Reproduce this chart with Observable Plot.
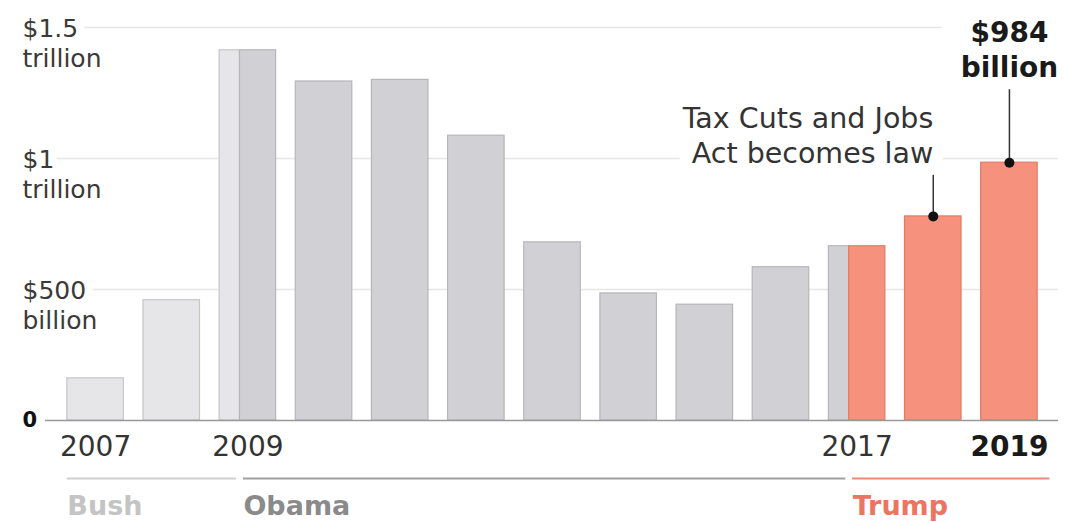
<!DOCTYPE html>
<html>
<head>
<meta charset="utf-8">
<script src="https://cdn.jsdelivr.net/npm/d3@7"></script>
<script src="https://cdn.jsdelivr.net/npm/@observablehq/plot@0.6"></script>
<style>
  html, body { margin: 0; padding: 0; background: white; }
  #chart svg { display: block; }
</style>
</head>
<body>
<div id="chart"></div>
<script>
// ---- Data (US federal deficit, billions of dollars) ----
const years = [2007, 2008, 2009, 2010, 2011, 2012, 2013, 2014, 2015, 2016, 2017, 2018, 2019];
const deficits = [161, 459, 1413, 1294, 1300, 1087, 680, 485, 442, 585, 665, 779, 984];
const presidents = ["Bush", "Bush", "Obama", "Obama", "Obama", "Obama", "Obama", "Obama", "Obama", "Obama", "Trump", "Trump", "Trump"];
const handoffs = [
  {year: 2009, from: "Bush", to: "Obama"},
  {year: 2017, from: "Obama", to: "Trump"}
];
const handoffShare = 0.36; // part of the handoff year drawn for the outgoing president
const periodNames = ["Bush", "Obama", "Trump"];
const yTicks = [500, 1000, 1500];
const yTickLabels = ["$500\nbillion", "$1\ntrillion", "$1.5\ntrillion"];
const labeledYears = [2007, 2009, 2017];
const boldYear = 2019;
const annotations = [
  {year: 2018, text: "Tax Cuts and Jobs\nAct becomes law", leaderPx: 41},
  {year: 2019, text: "$984\nbillion", leaderPx: 73}
];

// ---- Styles ----
const fills = {Bush: "#e6e6e9", Obama: "#d1d1d5", Trump: "#f5917d"};
const strokes = {Bush: "#c6c6ca", Obama: "#b6b6ba", Trump: "#e37a68"};
const periodLine = {Bush: "#d0d0d0", Obama: "#a0a0a0", Trump: "#ef8a77"};
const periodText = {Bush: "#c4c4c4", Obama: "#8a8a8a", Trump: "#ec7561"};
const barHalf = 0.371;
const W = 1066, H = 522, mT = 27, mB = 102, mL = 57, mR = 19;
const yMax = 1500;
const perPx = yMax / (H - mT - mB);

// ---- Derived tables ----
const value = Object.fromEntries(years.map((y, i) => [y, deficits[i]]));
const splitOf = {};
const segments = years.flatMap((yr, i) => {
  const left = yr - barHalf, right = yr + barHalf, v = deficits[i];
  const h = handoffs.find(d => d.year === yr);
  if (!h) return [{x1: left, x2: right, value: v, president: presidents[i]}];
  const split = left + handoffShare * (right - left);
  splitOf[yr] = split;
  return [
    {x1: left, x2: split, value: v, president: h.from},
    {x1: split, x2: right, value: v, president: h.to}
  ];
});
const gap = 0.045;
const periods = [
  {name: "Bush", x1: years[0] - barHalf, x2: splitOf[2009] - gap},
  {name: "Obama", x1: splitOf[2009] + gap, x2: splitOf[2017] - gap},
  {name: "Trump", x1: splitOf[2017] + gap, x2: years[years.length - 1] + barHalf + 0.16}
].filter(d => periodNames.includes(d.name));
const ann = annotations.map(d => ({...d, value: value[d.year]}));
const yLabelRows = yTicks.map((t, i) => ({y: t, label: yTickLabels[i]}));

// shared text options
const yLabelOpts = {
  y: "y", text: "label", frameAnchor: "left", dx: -35, textAnchor: "start",
  lineAnchor: "top", dy: -11, lineHeight: 1.17, fontSize: 25
};
const ann18 = ann.filter(d => d.year === 2018);
const ann19 = ann.filter(d => d.year === 2019);
const ann18Opts = {
  x: "year", y: "value", text: "text", textAnchor: "end", lineAnchor: "bottom",
  dy: -(annotations[0].leaderPx + 12), lineHeight: 1.25, fontSize: 28.5
};
const ann19Opts = {
  x: "year", y: "value", text: "text", textAnchor: "middle", lineAnchor: "bottom",
  dy: -(annotations[1].leaderPx + 13), lineHeight: 1.25, fontSize: 28, fontWeight: "bold"
};
const halo = (w) => ({fill: "none", stroke: "white", strokeWidth: w, strokeLinejoin: "round"});

const chart = Plot.plot({
  width: W, height: H,
  marginTop: mT, marginBottom: mB, marginLeft: mL, marginRight: mR,
  x: {domain: [2006.5, 2019.5], axis: null},
  y: {domain: [0, yMax], axis: null},
  color: {type: "identity"},
  style: {fontFamily: "'DejaVu Sans', sans-serif", background: "white", overflow: "visible", color: "#333"},
  marks: [
    Plot.ruleY(yTicks, {stroke: "#e6e6e6", strokeWidth: 1.5, insetLeft: -37, insetRight: -11}),
    Plot.rect(segments, {
      x1: "x1", x2: "x2", y1: 0, y2: "value",
      fill: d => fills[d.president], stroke: d => strokes[d.president], strokeWidth: 1.2
    }),
    Plot.ruleY([0], {stroke: "#999", strokeWidth: 1.5, insetLeft: -12, insetRight: -11}),
    // halos that cut the gridlines around labels
    Plot.text(yLabelRows, {...yLabelOpts, ...halo(17)}),
    Plot.text(ann19, {...ann19Opts, ...halo(62)}),
    Plot.text(ann18, {...ann18Opts, ...halo(26)}),
    // y labels
    Plot.text(yLabelRows, {...yLabelOpts, fill: "#3a3a3a"}),
    Plot.text([0], {
      y: d => d, text: d => String(d), frameAnchor: "left", dx: -35, textAnchor: "start",
      lineAnchor: "middle", fontSize: 21, fontWeight: "bold", fill: "#111"
    }),
    // x year labels
    Plot.text(labeledYears, {
      x: d => d, y: 0, text: d => String(d), dy: 27, lineAnchor: "middle",
      fontSize: 28, fill: "#333"
    }),
    Plot.text([boldYear], {
      x: d => d, y: 0, text: d => String(d), dy: 27, lineAnchor: "middle",
      fontSize: 28, fontWeight: "bold", fill: "#1a1a1a"
    }),
    // presidency lines and labels
    Plot.ruleY(periods, {
      y: 0, x1: "x1", x2: "x2", dy: 58, strokeWidth: 2.2, stroke: d => periodLine[d.name]
    }),
    Plot.text(periods, {
      x: "x1", y: 0, text: "name", dy: 86, textAnchor: "start", lineAnchor: "middle",
      fontSize: 27, fontWeight: "bold", fill: d => periodText[d.name]
    }),
    // annotations
    Plot.text(ann18, {...ann18Opts, fill: "#333"}),
    Plot.text(ann19, {...ann19Opts, fill: "#1a1a1a"}),
    Plot.ruleX(ann, {
      x: "year", y1: "value", y2: d => d.value + d.leaderPx * perPx, stroke: "#333", strokeWidth: 1.5
    }),
    Plot.dot(ann, {x: "year", y: "value", r: 5, fill: "#111", stroke: "none"})
  ]
});
document.getElementById("chart").appendChild(chart);
</script>
</body>
</html>
